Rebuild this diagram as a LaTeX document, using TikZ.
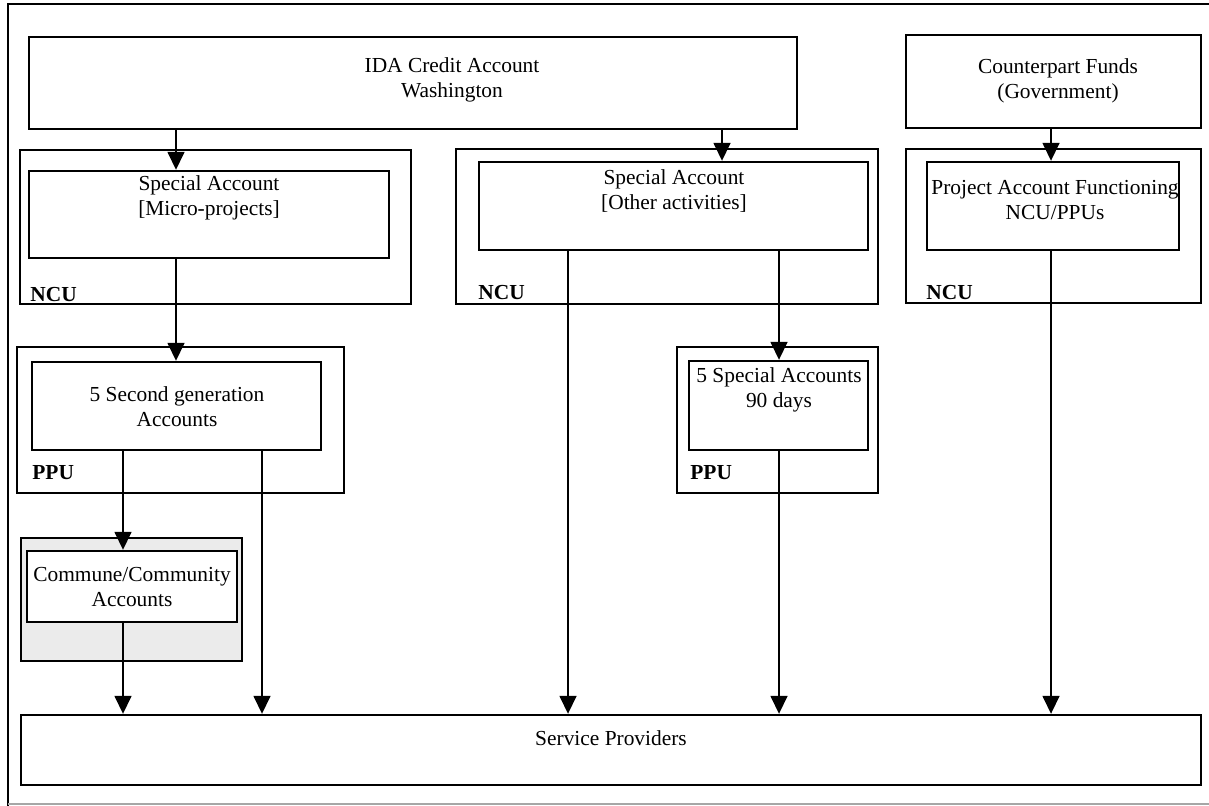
\documentclass[tikz,border=0pt]{standalone}
\usepackage{fontspec}
\setmainfont{Liberation Serif}
\usetikzlibrary{arrows.meta,fit}

\begin{document}
\begin{tikzpicture}[x=0.5pt,y=-0.5pt,
  box/.style={draw, line width=1.2pt, inner sep=0pt, fill=white},
  txt/.style={font=\fontsize{10.7pt}{12.4pt}\selectfont, align=center, inner sep=0pt},
  unitlabel/.style={font=\fontsize{10.7pt}{12.4pt}\selectfont\bfseries, inner sep=0pt, anchor=base west},
  arr/.style={line width=0.8pt, -{Triangle[length=9pt,width=8.5pt]}}]
\useasboundingbox (0,0) rectangle (1209,806);

% page frame
\draw[line width=1pt] (8,806) -- (8,4) -- (1209,4);
\draw[line width=0.8pt, gray!70] (8,804) -- (1209,804);

% sources
\node[box, fit={(29,37) (797,129)}] (ida) {};
\node[box, fit={(906,35) (1201,128)}] (cpf) {};

% national coordination unit accounts
\node[box, fit={(20,150) (411,304)}] (ncuA) {};
\node[box, fit={(29,171) (389,258)}] (micro) {};
\node[box, fit={(456,149) (878,304)}] (ncuB) {};
\node[box, fit={(479,162) (868,250)}] (other) {};
\node[box, fit={(906,149) (1201,303)}] (ncuC) {};
\node[box, fit={(927,162) (1179,250)}] (proj) {};

% provincial units
\node[box, fit={(17,347) (344,493)}] (ppuA) {};
\node[box, fit={(32,362) (321,450)}] (second) {};
\node[box, fit={(677,347) (878,493)}] (ppuB) {};
\node[box, fit={(689,361) (868,450)}] (ninety) {};

% communes
\node[box, fill=black!8, fit={(21,538) (242,661)}] (comOuter) {};
\node[box, fit={(27,551) (237,622)}] (commune) {};

% service providers
\node[box, fit={(21,715) (1201,785)}] (sp) {};

% texts
\node[txt] (idaT) at (452,80) {IDA Credit Account\\Washington};
\node[txt] (cpfT) at (1058,81) {Counterpart Funds\\(Government)};
\node[txt] (microT) at (209,198) {Special Account\\{[}Micro-projects{]}};
\node[txt] (otherT) at (674,191) {Special Account\\{[}Other activities{]}};
\node[txt] (projT) at (1055,200) {Project Account Functioning\\NCU/PPUs};
\node[txt] (secondT) at (177,407) {5 Second generation\\Accounts};
\node[txt] (ninetyT) at (779,390) {5 Special Accounts\\90 days};
\node[txt] (communeT) at (132,587) {Commune/Community\\Accounts};
\node[txt, anchor=base] (spT) at (611,745) {Service Providers};

\node[unitlabel] (ncuAL) at (30,302) {NCU};
\node[unitlabel] (ncuBL) at (478,300) {NCU};
\node[unitlabel] (ncuCL) at (926,300) {NCU};
\node[unitlabel] (ppuAL) at (32,480) {PPU};
\node[unitlabel] (ppuBL) at (690,480) {PPU};

% flow columns
\coordinate (xa) at (176,0);
\coordinate (xb) at (722,0);
\coordinate (xc) at (1051,0);
\coordinate (xd) at (123,0);
\coordinate (xe) at (262,0);
\coordinate (xf) at (568,0);
\coordinate (xg) at (779,0);

% flows of funds
\draw[arr] (ida.south -| xa) -- (micro.north -| xa);
\draw[arr] (ida.south -| xb) -- (other.north -| xb);
\draw[arr] (cpf.south -| xc) -- (proj.north -| xc);
\draw[arr] (micro.south -| xa) -- (second.north -| xa);
\draw[arr] (second.south -| xd) -- (commune.north -| xd);
\draw[arr] (second.south -| xe) -- (sp.north -| xe);
\draw[arr] (commune.south -| xd) -- (sp.north -| xd);
\draw[arr] (other.south -| xf) -- (sp.north -| xf);
\draw[arr] (other.south -| xg) -- (ninety.north -| xg);
\draw[arr] (ninety.south -| xg) -- (sp.north -| xg);
\draw[arr] (proj.south -| xc) -- (sp.north -| xc);
\end{tikzpicture}
\end{document}
